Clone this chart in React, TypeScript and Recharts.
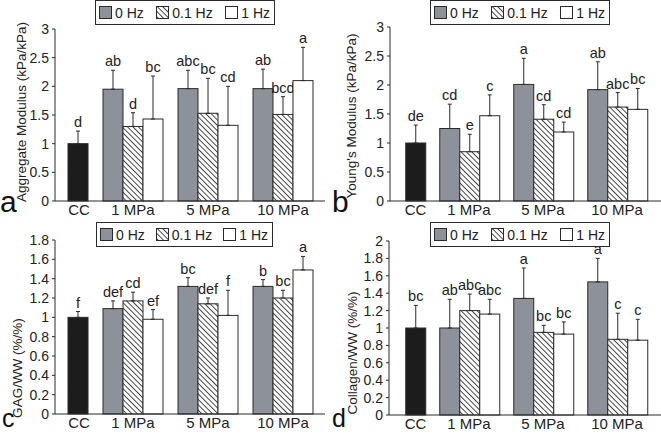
import { BarChart, Bar, XAxis, YAxis, ErrorBar, Legend, Label } from 'recharts'

const groups = ['CC', '1 MPa', '5 MPa', '10 MPa']
const freqs = ['0 Hz', '0.1 Hz', '1 Hz']

// order of values: CC, then 0 / 0.1 / 1 Hz for 1, 5 and 10 MPa
const aggMean = [1.0, 1.95, 1.3, 1.43, 1.96, 1.53, 1.32, 1.96, 1.51, 2.1]
const aggErr = [0.22, 0.33, 0.24, 0.75, 0.32, 0.61, 0.68, 0.34, 0.31, 0.58]
const aggLetters = ['d', 'ab', 'd', 'bc', 'abc', 'bc', 'cd', 'ab', 'bcd', 'a']

const youngMean = [1.0, 1.25, 0.85, 1.47, 2.01, 1.41, 1.19, 1.92, 1.62, 1.58]
const youngErr = [0.31, 0.42, 0.3, 0.36, 0.45, 0.25, 0.17, 0.48, 0.25, 0.36]
const youngLetters = ['de', 'cd', 'e', 'c', 'a', 'cd', 'cd', 'ab', 'abc', 'bc']

const gagMean = [1.0, 1.09, 1.17, 0.98, 1.32, 1.14, 1.02, 1.32, 1.2, 1.49]
const gagErr = [0.06, 0.08, 0.09, 0.1, 0.09, 0.06, 0.26, 0.07, 0.08, 0.14]
const gagLetters = ['f', 'def', 'cd', 'ef', 'bc', 'def', 'f', 'b', 'bc', 'a']

const colMean = [1.0, 1.0, 1.2, 1.16, 1.34, 0.95, 0.93, 1.53, 0.87, 0.86]
const colErr = [0.26, 0.33, 0.19, 0.17, 0.35, 0.08, 0.14, 0.27, 0.3, 0.24]
const colLetters = ['bc', 'ab', 'abc', 'abc', 'a', 'bc', 'bc', 'a', 'c', 'c']

const ticksModulus = [0, 0.5, 1, 1.5, 2, 2.5, 3]
const ticksGag = [0, 0.2, 0.4, 0.6, 0.8, 1, 1.2, 1.4, 1.6, 1.8]
const ticksCol = [0, 0.2, 0.4, 0.6, 0.8, 1, 1.2, 1.4, 1.6, 1.8, 2]

const keys = ['f0', 'f1', 'f2']
const GRAY = '#8d9199'
const CC_FILL = '#1c1c1c'
const INK = '#2a2a2a'

// CC sits in the third slot of its category so it lines up like the original
function buildRows(mean: number[], err: number[], letters: string[]) {
  return groups.map((name, g) => {
    const row: any = { name }
    if (g === 0) {
      row.cc = true
      row.f2 = mean[0]
      row.f2e = [0, err[0]]
      row.f2l = letters[0]
    } else {
      keys.forEach((k, j) => {
        const i = 1 + (g - 1) * 3 + j
        row[k] = mean[i]
        row[k + 'e'] = [0, err[i]]
        row[k + 'l'] = letters[i]
      })
    }
    return row
  })
}

function makeShape(key: string, fill: string) {
  return (p: any) => {
    const { x, y, width, height, payload } = p
    const mean = payload[key]
    if (mean == null || !height) return <g />
    const err = payload[key + 'e'][1]
    const top = y - err * (height / mean)
    return (
      <g>
        <rect x={x} y={y} width={width} height={height} fill={payload.cc ? CC_FILL : fill} stroke={INK} strokeWidth={1} />
        <text x={x + width / 2} y={top - 4} textAnchor="middle" fontSize={14.5} fill="#222">
          {payload[key + 'l']}
        </text>
      </g>
    )
  }
}

function LegendBox({ hatch }: { hatch: string }) {
  const fills = [GRAY, `url(#${hatch})`, '#fff']
  return (
    <div
      style={{
        border: `1px solid ${INK}`,
        height: 25,
        boxSizing: 'border-box',
        display: 'flex',
        alignItems: 'center',
        justifyContent: 'space-between',
        padding: '0 4px 0 3px',
        fontSize: 14,
        color: '#222',
        background: '#fff',
      }}
    >
      {freqs.map((f, i) => (
        <span key={f} style={{ display: 'flex', alignItems: 'center', gap: 3 }}>
          <svg width={13} height={13}>
            <rect x={0.5} y={0.5} width={12} height={12} fill={fills[i]} stroke={INK} />
          </svg>
          {f}
        </span>
      ))}
    </div>
  )
}

function Panel(props: any) {
  const { id, mean, err, letters, ticks, max, label, pos, size, margin, yWidth, xHeight, padL, padR, gap, barW, legend, labelX, labelDy, letter } = props
  const rows = buildRows(mean, err, letters)
  const hatch = `hatch-${id}`
  const XTick = (t: any) => (
    <text x={t.x + (t.payload.value === 'CC' ? barW : 0)} y={t.y} dy="0.71em" textAnchor="middle" fontSize={15} fill="#222">
      {t.payload.value}
    </text>
  )
  return (
    <div style={{ position: 'absolute', left: pos[0], top: pos[1] }}>
      <BarChart width={size[0]} height={size[1]} data={rows} margin={margin} barCategoryGap={gap} barGap={0}>
        <defs>
          <pattern id={hatch} width={3.8} height={3.8} patternUnits="userSpaceOnUse" patternTransform="rotate(-45)">
            <rect width={3.8} height={3.8} fill="#fff" />
            <line x1={0.5} y1={0} x2={0.5} y2={3.8} stroke="#333" strokeWidth={0.9} />
          </pattern>
        </defs>
        <XAxis
          dataKey="name"
          height={xHeight}
          padding={{ left: padL, right: padR }}
          tickLine={false}
          tickSize={0}
          tickMargin={3}
          axisLine={{ stroke: INK }}
          tick={XTick}
          interval={0}
        />
        <YAxis
          width={yWidth}
          domain={[0, max]}
          ticks={ticks}
          interval={0}
          tickSize={3}
          tickMargin={3}
          axisLine={{ stroke: INK }}
          tickLine={{ stroke: INK }}
          tick={{ fontSize: 14, fill: '#222' }}
        >
          <Label
            content={(lp: any) => {
              const vb = lp.viewBox
              const cx = vb.x + labelX
              const cy = vb.y + vb.height / 2 + labelDy
              return (
                <text x={cx} y={cy} transform={`rotate(-90 ${cx} ${cy})`} textAnchor="middle" dominantBaseline="central" fontSize={13.5} fill="#222">
                  {label}
                </text>
              )
            }}
          />
        </YAxis>
        <Legend
          layout="horizontal"
          verticalAlign="middle"
          align="center"
          width={legend[2]}
          wrapperStyle={{ left: legend[0], top: legend[1], width: legend[2] }}
          content={() => <LegendBox hatch={hatch} />}
        />
        {keys.map((k, i) => (
          <Bar
            key={k}
            dataKey={k}
            name={freqs[i]}
            fill={[GRAY, `url(#${hatch})`, '#fff'][i]}
            shape={makeShape(k, [GRAY, `url(#${hatch})`, '#fff'][i])}
            isAnimationActive={false}
          >
            <ErrorBar dataKey={k + 'e'} width={2} stroke={INK} strokeWidth={1} direction="y" />
          </Bar>
        ))}
        <text x={letter[0]} y={letter[1]} fontSize={letter[2]} fill="#111">
          {id}
        </text>
      </BarChart>
    </div>
  )
}

export default function App() {
  return (
    <div style={{ position: 'absolute', left: 0, top: 0, width: 661, height: 436, background: '#fff', fontFamily: '"Liberation Sans", Arial, sans-serif' }}>
      <Panel
        id="a" mean={aggMean} err={aggErr} letters={aggLetters} ticks={ticksModulus} max={3}
        label="Aggregate Modulus (kPa/kPa)"
        pos={[0, 0]} size={[330, 218]} margin={{ top: 29, right: 5, left: 0, bottom: 0 }}
        yWidth={55} xHeight={17} padL={-34.5} padR={4.5} gap={7.5} barW={21}
        legend={[95, 0, 180]} labelX={21} labelDy={-3} letter={[0, 212, 30]}
      />
      <Panel
        id="b" mean={youngMean} err={youngErr} letters={youngLetters} ticks={ticksModulus} max={3}
        label="Young's Modulus (kPa/kPa)"
        pos={[330, 0]} size={[331, 218]} margin={{ top: 27, right: 0, left: 0, bottom: 0 }}
        yWidth={60} xHeight={17} padL={-32} padR={7} gap={7.75} barW={20.5}
        legend={[100, 0, 180]} labelX={21} labelDy={2} letter={[2, 212, 30]}
      />
      <Panel
        id="c" mean={gagMean} err={gagErr} letters={gagLetters} ticks={ticksGag} max={1.8}
        label="GAG/WW (%/%)"
        pos={[0, 218]} size={[330, 218]} margin={{ top: 22, right: 5, left: 0, bottom: 0 }}
        yWidth={55} xHeight={22} padL={-34.5} padR={4.5} gap={7.5} barW={21}
        legend={[96, 4, 177]} labelX={17} labelDy={41} letter={[2, 209, 25]}
      />
      <Panel
        id="d" mean={colMean} err={colErr} letters={colLetters} ticks={ticksCol} max={2}
        label="Collagen/WW (%/%)"
        pos={[330, 218]} size={[331, 218]} margin={{ top: 23, right: 0, left: 0, bottom: 0 }}
        yWidth={59} xHeight={21} padL={-31} padR={7} gap={7.75} barW={20.5}
        legend={[100, 4, 180]} labelX={22} labelDy={25} letter={[2, 209, 25]}
      />
    </div>
  )
}
